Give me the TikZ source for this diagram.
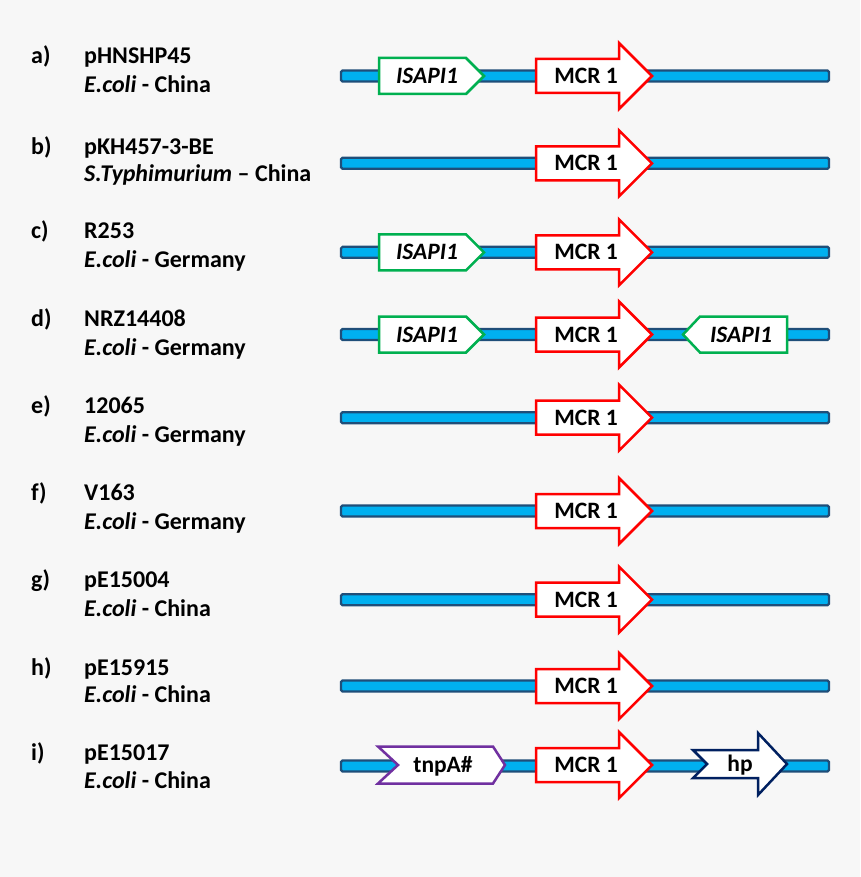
\documentclass[tikz,border=0pt]{standalone}
\usepackage{fontspec}
\setmainfont{Carlito}
\definecolor{bgcol}{HTML}{F7F7F7}
\definecolor{barfill}{HTML}{00B0F0}
\definecolor{barline}{HTML}{1F4E79}
\definecolor{isgreen}{HTML}{00B050}
\definecolor{mcrred}{HTML}{FF0000}
\definecolor{tnppurple}{HTML}{7030A0}
\definecolor{hpnavy}{HTML}{002060}
\tikzset{
  barstyle/.style={draw=barline, fill=barfill, line width=2.2pt, rounded corners=1.5pt},
  isstyle/.style={draw=isgreen, fill=white, line width=2.5pt, line join=miter},
  mcrstyle/.style={draw=mcrred, fill=white, line width=2.5pt, line join=miter},
  tnpstyle/.style={draw=tnppurple, fill=white, line width=2.5pt, line join=miter},
  hpstyle/.style={draw=hpnavy, fill=white, line width=2.5pt, line join=miter},
  lbl/.style={font=\fontsize{24}{28}\selectfont\bfseries, anchor=base west, inner sep=0pt},
  genetext/.style={font=\fontsize{23.5}{28}\selectfont\bfseries, anchor=base, inner sep=0pt},
}
\newcommand\plasmidbar[1]{%
  \draw[barstyle] (341,#1-5.5) rectangle (829,#1+5.5);}
\newcommand\mcrgene[2]{%
  \draw[mcrstyle] (536,#2-17) -- (619,#2-17) -- (619,#2-33) -- (652,#2) -- (619,#2+33) -- (619,#2+17) -- (536,#2+17) -- cycle;
  \node[genetext] (#1) at (586,#2+7.5) {MCR 1};}
\newcommand\isfwd[2]{%
  \draw[isstyle] (379,#2-18) -- (466,#2-18) -- (484,#2) -- (466,#2+18) -- (379,#2+18) -- cycle;
  \node[genetext] (#1) at (427,#2+7.5) {\itshape ISAPI1};}
\newcommand\labelrow[6]{% id, letter, name, second line, baseline1, baseline2
  \node[lbl] (l#1) at (31,#5) {#2};
  \node[lbl] (n#1) at (84,#5) {#3};
  \node[lbl] (s#1) at (84,#6) {#4};}
\begin{document}
\begin{tikzpicture}[x=1pt,y=-1pt]
\useasboundingbox[fill=bgcol] (0,0) rectangle (860,877);

% labels
\labelrow{a}{a)}{pHNSHP45}{\textit{E.coli} - China}{63.3}{92.7}
\labelrow{b}{b)}{pKH457-3-BE}{\textit{S.Typhimurium} – China}{154.3}{181.7}
\labelrow{c}{c)}{R253}{\textit{E.coli} - Germany}{239}{267.7}
\labelrow{d}{d)}{NRZ14408}{\textit{E.coli} - Germany}{326}{355}
\labelrow{e}{e)}{12065}{\textit{E.coli} - Germany}{413}{442}
\labelrow{f}{f)}{V163}{\textit{E.coli} - Germany}{500}{529}
\labelrow{g}{g)}{pE15004}{\textit{E.coli} - China}{587.5}{616}
\labelrow{h}{h)}{pE15915}{\textit{E.coli} - China}{675}{702.7}
\labelrow{i}{i)}{pE15017}{\textit{E.coli} - China}{760}{788}

% row a
\plasmidbar{76}
\isfwd{isa}{76}
\mcrgene{mcra}{76}
% row b
\plasmidbar{163.3}
\mcrgene{mcrb}{163.3}
% row c
\plasmidbar{252.3}
\isfwd{isc}{252.3}
\mcrgene{mcrc}{252.3}
% row d
\plasmidbar{334.5}
\isfwd{isd}{334.5}
\mcrgene{mcrd}{334.5}
\draw[isstyle] (683,334.5) -- (700,316.5) -- (787,316.5) -- (787,352.5) -- (700,352.5) -- cycle;
\node[genetext] (isdr) at (741,342) {\itshape ISAPI1};
% row e
\plasmidbar{417.7}
\mcrgene{mcre}{417.7}
% row f
\plasmidbar{511}
\mcrgene{mcrf}{511}
% row g
\plasmidbar{599.7}
\mcrgene{mcrg}{599.7}
% row h
\plasmidbar{686}
\mcrgene{mcrh}{686}
% row i
\plasmidbar{766}
\draw[tnpstyle] (378,746.5) -- (493,746.5) -- (505,765) -- (493,783.5) -- (378,783.5) -- (398,765) -- cycle;
\node[genetext] (tnp) at (443,772.5) {tnpA\#};
\mcrgene{mcri}{765}
\draw[hpstyle] (693,750) -- (758,750) -- (758,733) -- (787,764) -- (758,795) -- (758,778) -- (693,778) -- (707,764) -- cycle;
\node[genetext] (hp) at (740,771.5) {hp};
\end{tikzpicture}
\end{document}
